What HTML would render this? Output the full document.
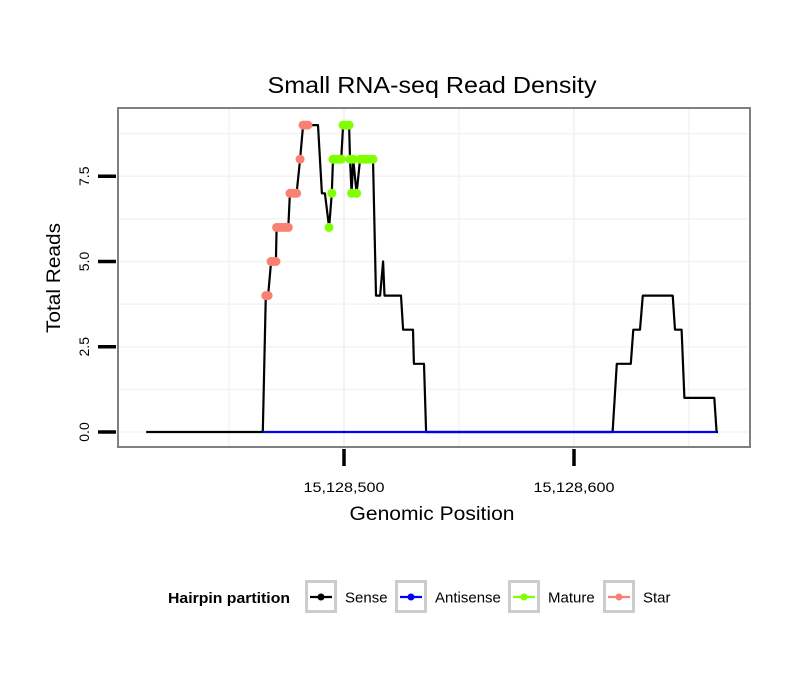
<!DOCTYPE html>
<html><head><meta charset="utf-8"><style>
body{margin:0;background:#fff;font-family:"Liberation Sans",sans-serif}
</style></head><body>
<svg id="chart" width="810" height="690" xmlns="http://www.w3.org/2000/svg" font-family="Liberation Sans, sans-serif">
<rect width="810" height="690" fill="#fff"/>
<text x="432" y="93" font-size="23" text-anchor="middle" textLength="329" lengthAdjust="spacingAndGlyphs">Small RNA-seq Read Density</text>
<g id="grid"></g>
<g id="series"></g>
<rect x="118" y="108" width="632" height="339" fill="none" stroke="#808080" stroke-width="2"/>
<g id="axes"></g>
<text x="432" y="520" font-size="19" text-anchor="middle" textLength="165" lengthAdjust="spacingAndGlyphs">Genomic Position</text>
<text x="0" y="0" font-size="19" text-anchor="middle" textLength="110" lengthAdjust="spacingAndGlyphs" transform="translate(60,278) rotate(-90)">Total Reads</text>
<g>
<text x="168" y="603" font-size="15" font-weight="bold" textLength="122" lengthAdjust="spacingAndGlyphs">Hairpin partition</text>
<g id="legend"></g>
</g>
</svg>
<script>
const xTicks=[15128500,15128600];
const xTickLabels=["15,128,500","15,128,600"];
const yTicks=[0,2.5,5,7.5];
const yTickLabels=["0.0","2.5","5.0","7.5"];
const partNames=["Sense","Antisense","Mature","Star"];
const partColors=["#000000","#0000ff","#7fff00","#fa8072"];
// sense positions (offset from 15128400), values, partition index
const pos=[14,64.7,66,67,68.3,69.3,70.4,70.7,72,73.2,74.5,75.8,76.5,77.5,78.5,79.4,80.9,82.2,83.2,84.3,88.7,90.4,91.7,93.5,94.7,95.2,96.4,97.6,98.8,99.6,100.9,102.2,102.6,103.3,104,105.5,107,108.4,109.8,111.2,112.6,113.9,115.7,117,117.6,124.8,125.7,130,130.4,134.8,135.7,216.8,218.6,224.7,225.8,228.7,229.9,242.9,243.9,246.8,248,261,262,262.6];
const vals=[0,0,4,4,5,5,5,6,6,6,6,6,7,7,7,7,8,9,9,9,9,7,7,6,7,8,8,8,8,9,9,9,8,7,8,7,8,8,8,8,8,4,4,5,4,4,3,3,2,2,0,0,2,2,3,3,4,4,3,3,1,1,0,0];
const parts=[0,0,3,3,3,3,3,3,3,3,3,3,3,3,3,3,3,3,3,3,0,0,0,2,2,2,2,2,2,2,2,2,2,2,2,2,2,2,2,2,2,0,0,0,0,0,0,0,0,0,0,0,0,0,0,0,0,0,0,0,0,0,0,0];
const antiPos=[64.7,262];
const antiVals=[0,0];

const NS="http://www.w3.org/2000/svg";
const X0=15128400;
function xs(p){return 344+(p-100)*2.3;}
function xg(g){return xs(g-X0);}
function ys(v){return 432-v*34.1;}
function mk(tag,attrs,parent){const e=document.createElementNS(NS,tag);for(const k in attrs)e.setAttribute(k,attrs[k]);parent.appendChild(e);return e;}
const grid=document.getElementById('grid'),series=document.getElementById('series'),axes=document.getElementById('axes'),legend=document.getElementById('legend');
for(let g=15128350;g<=15128700;g+=50){const x=xg(g);if(x<119||x>749)continue;
 const l=mk('line',{x1:x,x2:x,y1:109,y2:446,stroke:'#f3f3f3','stroke-width':g%100===0?2:1.5},grid);
 }
for(let v=-1.25;v<=10;v+=1.25){const y=ys(v);if(y<109||y>446)continue;
 const l=mk('line',{x1:119,x2:749,y1:y,y2:y,stroke:'#f3f3f3','stroke-width':1.5},grid);
 }
let d=pos.map((p,i)=>(i?'L':'M')+xs(p).toFixed(1)+','+ys(vals[i]).toFixed(1)).join('');
const sl=mk('path',{d:d,fill:'none',stroke:'#000','stroke-width':2.2,'stroke-linejoin':'round'},series);

const al=mk('path',{d:antiPos.map((p,i)=>(i?'L':'M')+xs(p)+','+ys(antiVals[i])).join(''),stroke:'#0000ff','stroke-width':2.2,fill:'none'},series);

for(let i=0;i<pos.length;i++){
 if(parts[i]===0)continue;
 const c=mk('circle',{cx:xs(pos[i]),cy:ys(vals[i]),r:4.5,fill:partColors[parts[i]]},series);
 
}
yTicks.forEach((v,i)=>{const y=ys(v);
 const t=mk('line',{x1:98,x2:116,y1:y,y2:y,stroke:'#000','stroke-width':3.5},axes);
 
 const tx=mk('text',{x:0,y:0,'font-size':14,'text-anchor':'middle',transform:`translate(89,${y}) rotate(-90)`},axes);
 tx.textContent=yTickLabels[i];});
xTicks.forEach((g,i)=>{const x=xg(g);
 const t=mk('line',{x1:x,x2:x,y1:449,y2:466,stroke:'#000','stroke-width':3.5},axes);
 
 const tx=mk('text',{x:x,y:492,'font-size':14,'text-anchor':'middle',textLength:81,lengthAdjust:'spacingAndGlyphs'},axes);
 tx.textContent=xTickLabels[i];});
const lx=[305,395,508,603];
partNames.forEach((n,i)=>{
 const g=mk('g',{},legend);
 mk('rect',{x:lx[i]+1.5,y:581.5,width:29,height:30,fill:'#fff',stroke:'#cccccc','stroke-width':3},g);
 mk('line',{x1:lx[i]+5,x2:lx[i]+27,y1:597,y2:597,stroke:partColors[i],'stroke-width':2.2},g);
 mk('circle',{cx:lx[i]+16,cy:597,r:3.5,fill:partColors[i]},g);
 const t=mk('text',{x:lx[i]+40,y:602.5,'font-size':15},g);t.textContent=n;
});
</script>
</body></html>
